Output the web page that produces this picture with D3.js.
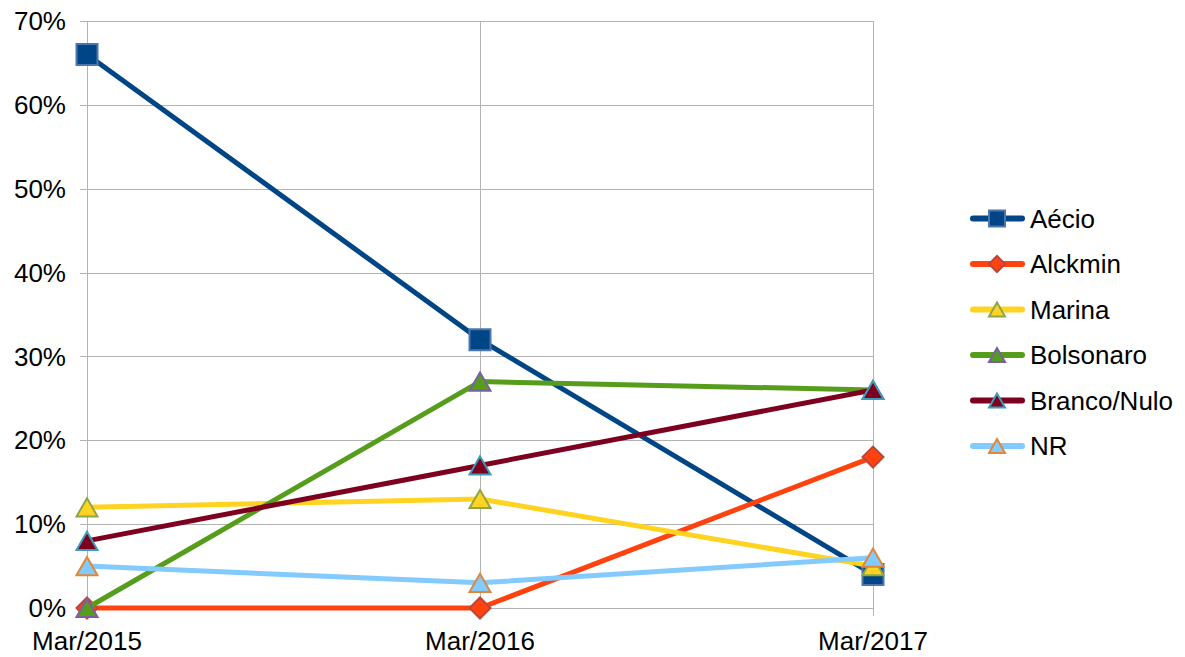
<!DOCTYPE html>
<html>
<head>
<meta charset="utf-8">
<script src="https://cdn.jsdelivr.net/npm/d3@7"></script>
<style>
  body { margin: 0; background: #fff; }
  text { font-family: "Liberation Sans", Arial, sans-serif; fill: #000; }
</style>
</head>
<body>
<div id="myChart"></div>
<script>
// data
const categories = ["Mar/2015", "Mar/2016", "Mar/2017"];
const seriesNames = ["Aécio", "Alckmin", "Marina", "Bolsonaro", "Branco/Nulo", "NR"];
const aecio = [66, 32, 4];
const alckmin = [0, 0, 18];
const marina = [12, 13, 5];
const bolsonaro = [0, 27, 26];
const brancoNulo = [8, 17, 26];
const nr = [5, 3, 6];
const yTicks = [0, 10, 20, 30, 40, 50, 60, 70];

// style per series
const lineColors = ["#004586", "#ff420e", "#ffd320", "#579d1c", "#7e0021", "#83caff"];
const markerStroke = ["#4d76ad", "#b8473a", "#8fa54a", "#7b5fa0", "#3d9cb6", "#e0873a"];
const markerShape = ["square", "diamond", "triangle", "triangle", "triangle", "triangle"];

const allValues = [aecio, alckmin, marina, bolsonaro, brancoNulo, nr];

let width = 1185;
let height = 657;

let svg = d3.select("#myChart").append("svg")
  .attr("width", width)
  .attr("height", height);

let x = d3.scalePoint()
  .domain(categories)
  .range([87, 873]);

let y = d3.scaleLinear()
  .domain([0, 70])
  .range([608, 21]);

// horizontal grid + ticks
svg.append("g")
  .selectAll("line")
  .data(yTicks)
  .enter()
  .append("line")
  .attr("x1", 80)
  .attr("x2", 873)
  .attr("y1", d => Math.round(y(d)) + 0.5)
  .attr("y2", d => Math.round(y(d)) + 0.5)
  .attr("stroke", "#b3b3b3")
  .attr("stroke-width", 1);

// vertical grid + ticks
svg.append("g")
  .selectAll("line")
  .data(categories)
  .enter()
  .append("line")
  .attr("x1", d => Math.round(x(d)) + 0.5)
  .attr("x2", d => Math.round(x(d)) + 0.5)
  .attr("y1", y(70))
  .attr("y2", 616)
  .attr("stroke", "#b3b3b3")
  .attr("stroke-width", 1);

// y labels
svg.append("g")
  .selectAll("text")
  .data(yTicks)
  .enter()
  .append("text")
  .attr("x", 66)
  .attr("y", d => y(d))
  .attr("dy", "0.35em")
  .attr("text-anchor", "end")
  .style("font-size", "26px")
  .text(d => d + "%");

// x labels
svg.append("g")
  .selectAll("text")
  .data(categories)
  .enter()
  .append("text")
  .attr("x", d => x(d))
  .attr("y", 650)
  .attr("text-anchor", "middle")
  .style("font-size", "26px")
  .text(d => d);

let line = d3.line()
  .x((d, i) => x(categories[i]))
  .y(d => y(d));

// marker path + transform, px = outer width of the shape
function marker(shape, px) {
  if (shape === "square") {
    return { d: d3.symbol().type(d3.symbolSquare).size(px * px)(), t: "" };
  }
  if (shape === "diamond") {
    let s = px / Math.SQRT2;
    return { d: d3.symbol().type(d3.symbolSquare).size(s * s)(), t: " rotate(45)" };
  }
  // equilateral triangle, shifted so its box is centred on the point
  let area = px * px * Math.sqrt(3) / 4;
  return { d: d3.symbol().type(d3.symbolTriangle).size(area)(), t: " translate(0," + (px * Math.sqrt(3) / 12) + ")" };
}

allValues.forEach(function (vals, s) {
  let g = svg.append("g");
  g.append("path")
    .attr("d", line(vals))
    .attr("fill", "none")
    .attr("stroke", lineColors[s])
    .attr("stroke-width", 5)
    .attr("stroke-linejoin", "round");

  let m = marker(markerShape[s], 21);
  g.selectAll(".m")
    .data(vals)
    .enter()
    .append("path")
    .attr("d", m.d)
    .attr("transform", (d, i) => "translate(" + x(categories[i]) + "," + y(d) + ")" + m.t)
    .attr("fill", lineColors[s])
    .attr("stroke", markerStroke[s])
    .attr("stroke-width", 2);
});

// legend
let legend = svg.append("g");
seriesNames.forEach(function (name, s) {
  let cy = 218.5 + s * 45.5;
  legend.append("line")
    .attr("x1", 973)
    .attr("x2", 1022)
    .attr("y1", cy)
    .attr("y2", cy)
    .attr("stroke", lineColors[s])
    .attr("stroke-width", 6)
    .attr("stroke-linecap", "round");
  let m = marker(markerShape[s], 16);
  legend.append("path")
    .attr("d", m.d)
    .attr("transform", "translate(997," + cy + ")" + m.t)
    .attr("fill", lineColors[s])
    .attr("stroke", markerStroke[s])
    .attr("stroke-width", 2);
  legend.append("text")
    .attr("x", 1030)
    .attr("y", cy)
    .attr("dy", "0.35em")
    .style("font-size", "26px")
    .text(name);
});
</script>
</body>
</html>
